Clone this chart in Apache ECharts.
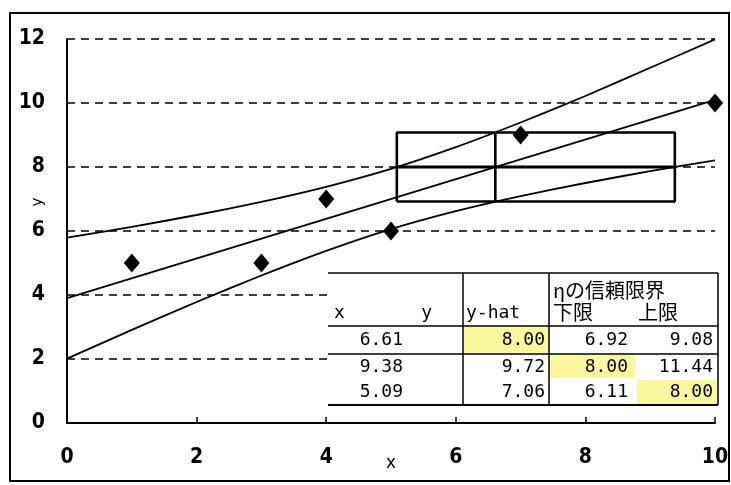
<!DOCTYPE html>
<html>
<head>
<meta charset="utf-8">
<script src="https://cdn.jsdelivr.net/npm/echarts@6/dist/echarts.min.js"></script>
<style>
  html, body { margin: 0; padding: 0; background: #fff; }
  #chart { width: 731px; height: 485px; }
</style>
</head>
<body>
<div id="chart"></div>
<script>
// Observed data points
const pointX = [1, 3, 4, 5, 7, 10];
const pointY = [5, 5, 7, 6, 9, 10];

// Fitted regression line (end points)
const fitX = [0, 10];
const fitY = [3.9, 10.1];

// Confidence band for the mean (upper / lower curves)
const bandX = [0, 1, 2, 3, 4, 5, 6, 7, 8, 9, 10];
const bandUpper = [5.79, 6.13, 6.50, 6.91, 7.38, 7.94, 8.62, 9.39, 10.22, 11.10, 11.99];
const bandLower = [2.01, 2.91, 3.78, 4.61, 5.38, 6.06, 6.62, 7.09, 7.50, 7.87, 8.21];

// Axis ticks
const xTicks = [0, 2, 4, 6, 8, 10];
const yTicks = [0, 2, 4, 6, 8, 10, 12];

// Table: ηの信頼限界
const tableTitle = 'ηの信頼限界';
const tableHeads = ['x', 'y', 'y-hat', '下限', '上限'];
const tableX = [6.61, 9.38, 5.09];
const tableYhat = [8.00, 9.72, 7.06];
const tableLower = [6.92, 8.00, 6.11];
const tableUpper = [9.08, 11.44, 8.00];
const targetY = 8.00;

const pair = (xs, ys) => xs.map((x, i) => [x, ys[i]]);

// Interval box: x range where the bands cross y = 8, y range at y-hat = 8
const boxL = tableX[2], boxR = tableX[1], boxM = tableX[0];
const boxB = tableLower[0], boxT = tableUpper[0], boxC = tableYhat[0];
const boxOutline = [[boxL, boxB], [boxR, boxB], [boxR, boxT], [boxL, boxT], [boxL, boxB]];
const boxHoriz = [[boxL, boxC], [boxR, boxC]];
const boxVert = [[boxM, boxB], [boxM, boxT]];

const chart = echarts.init(document.getElementById('chart'), null, { renderer: 'canvas' });

const axisFont = { fontFamily: '"DejaVu Sans Condensed", "DejaVu Sans", sans-serif', fontWeight: 'bold', fontSize: 21, color: '#000' };
const monoFont = '18px "DejaVu Sans Mono", monospace';
const cjkFont = '20px "Noto Sans CJK JP", sans-serif';

// Table geometry (pixels)
const T = { left: 328, right: 718, top: 273, h1: 326, h2: 354, bottom: 405, c1: 463, c2: 549, c3: 636 };
const rowY = [340, 367, 392];
const colRight = [403, 545, 628, 713];

function tableGraphics() {
  const els = [];
  els.push({ type: 'rect', z: 100, shape: { x: T.left + 2, y: T.top, width: T.right - T.left - 2, height: T.bottom - T.top }, style: { fill: '#fff' } });
  // yellow cells where the value equals 8.00
  const cols = [tableYhat, tableLower, tableUpper];
  const colSpan = [[T.c1, T.c2], [T.c2, T.c3], [T.c3, T.right]];
  const rowSpan = [[T.h1, T.h2], [T.h2, 379], [379, T.bottom]];
  cols.forEach((vals, ci) => vals.forEach((v, ri) => {
    if (v === targetY) {
      els.push({ type: 'rect', z: 101, shape: { x: colSpan[ci][0] + 1, y: rowSpan[ri][0] + 1, width: colSpan[ci][1] - colSpan[ci][0] - 2, height: rowSpan[ri][1] - rowSpan[ri][0] - 2 }, style: { fill: '#fdf7a0' } });
    }
  }));
  const line = (x1, y1, x2, y2, w) => ({ type: 'line', z: 102, shape: { x1, y1, x2, y2 }, style: { stroke: '#000', lineWidth: w || 1.5 } });
  els.push(line(T.left, T.top, T.right, T.top));
  els.push(line(T.left, T.h1, T.right, T.h1));
  els.push(line(T.left, T.h2, T.right, T.h2));
  els.push(line(T.left, T.bottom, T.right, T.bottom, 2));
  els.push(line(T.c1, T.top, T.c1, T.bottom));
  els.push(line(T.c2, T.top, T.c2, T.bottom));
  els.push(line(T.right, T.top, T.right, T.bottom));
  const txt = (text, x, y, font, align) => ({ type: 'text', z: 103, style: { text, x, y, font, fill: '#000', textAlign: align || 'left', textVerticalAlign: 'middle' } });
  els.push(txt(tableTitle, 553, 290, cjkFont));
  els.push(txt(tableHeads[0], 334, 313, monoFont));
  els.push(txt(tableHeads[1], 432, 313, monoFont, 'right'));
  els.push(txt(tableHeads[2], 466, 313, monoFont));
  els.push(txt(tableHeads[3], 553, 312, cjkFont));
  els.push(txt(tableHeads[4], 638, 312, cjkFont));
  [tableX, tableYhat, tableLower, tableUpper].forEach((vals, ci) => vals.forEach((v, ri) => {
    els.push(txt(v.toFixed(2), colRight[ci], rowY[ri], monoFont, 'right'));
  }));
  return els;
}

const option = {
  backgroundColor: '#fff',
  animation: false,
  grid: { left: 67, right: 16, top: 39, bottom: 62, containLabel: false, outerBoundsMode: 'none' },
  xAxis: {
    type: 'value', min: xTicks[0], max: xTicks[xTicks.length - 1], interval: 2,
    name: 'x', nameLocation: 'middle', nameGap: 32, nameMoveOverlap: false,
    nameTextStyle: { fontFamily: 'DejaVu Sans', fontSize: 17, color: '#000' },
    axisLine: { show: true, onZero: false, lineStyle: { color: '#000', width: 2 } },
    axisTick: { show: true, inside: true, length: 6, lineStyle: { color: '#000', width: 1.5 } },
    axisLabel: Object.assign({ margin: 24 }, axisFont),
    splitLine: { show: false }
  },
  yAxis: {
    type: 'value', min: yTicks[0], max: yTicks[yTicks.length - 1], interval: 2,
    axisLine: { show: true, onZero: false, lineStyle: { color: '#000', width: 2 } },
    axisTick: { show: false },
    axisLabel: Object.assign({ margin: 22 }, axisFont),
    splitLine: { show: true, lineStyle: { color: '#000', width: 1.6, type: [8, 6] } }
  },
  series: [
    { type: 'line', data: pair(bandX, bandUpper), symbol: 'none', smooth: 0.2, lineStyle: { color: '#000', width: 1.8 }, z: 3 },
    { type: 'line', data: pair(bandX, bandLower), symbol: 'none', smooth: 0.2, lineStyle: { color: '#000', width: 1.8 }, z: 3 },
    { type: 'line', data: pair(fitX, fitY), symbol: 'none', lineStyle: { color: '#000', width: 1.8 }, z: 3 },
    { type: 'line', data: boxOutline, symbol: 'none', lineStyle: { color: '#000', width: 2.6 }, z: 4 },
    { type: 'line', data: boxHoriz, symbol: 'none', lineStyle: { color: '#000', width: 3 }, z: 4 },
    { type: 'line', data: boxVert, symbol: 'none', lineStyle: { color: '#000', width: 2.6 }, z: 4 },
    { type: 'scatter', data: pair(pointX, pointY), symbol: 'diamond', symbolSize: [16, 19], itemStyle: { color: '#000', opacity: 1 }, z: 5 }
  ],
  graphic: [
    { type: 'rect', z: 0, shape: { x: 10, y: 13, width: 719, height: 468 }, style: { fill: 'none', stroke: '#000', lineWidth: 2 } },
    // y-axis title
    { type: 'text', z: 50, x: 38, y: 202, rotation: Math.PI / 2, style: { text: 'y', font: '15px "DejaVu Sans", sans-serif', fill: '#000', textAlign: 'center', textVerticalAlign: 'middle' } }
  ].concat(tableGraphics())
};

chart.setOption(option);
</script>
</body>
</html>
